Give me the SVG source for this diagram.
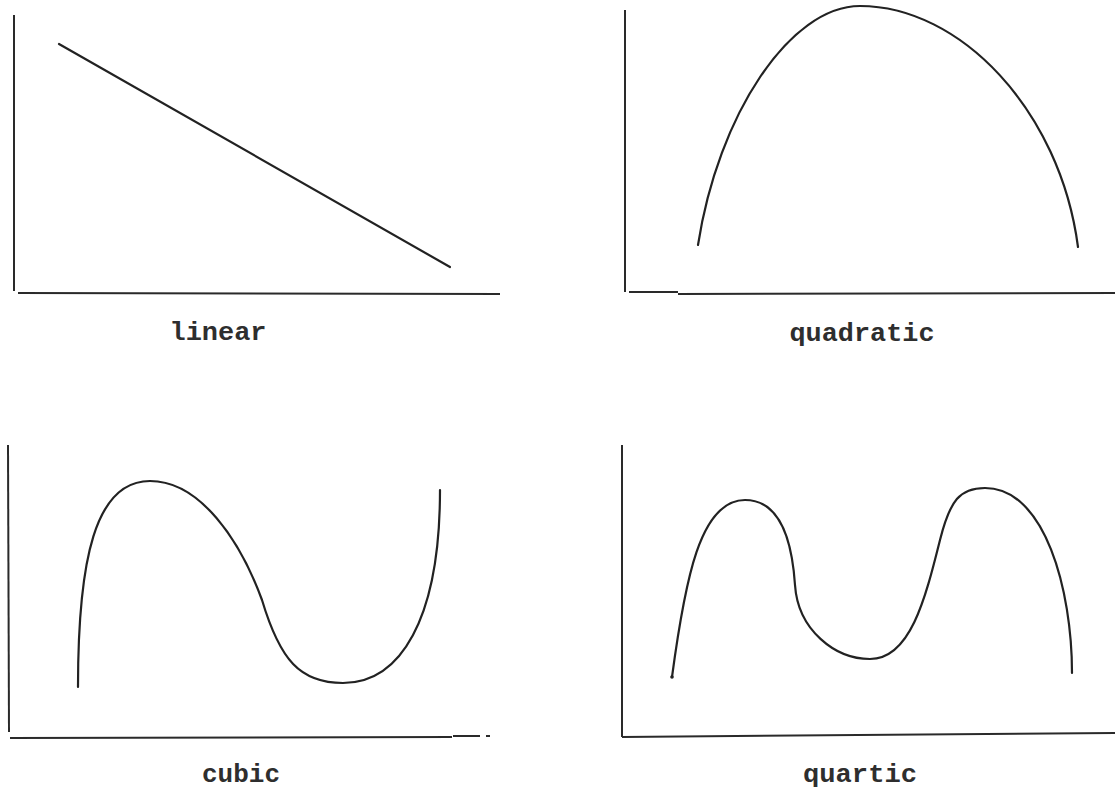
<svg xmlns="http://www.w3.org/2000/svg" width="1115" height="790" viewBox="0 0 1115 790">
<style>
.ax{stroke:#2a2a2a;stroke-width:2;fill:none;stroke-linecap:butt}
.cv{stroke:#222;stroke-width:2.2;fill:none;stroke-linecap:round;stroke-linejoin:round}
.lb{font-family:"Liberation Mono","Courier New",monospace;font-size:26px;font-weight:bold;fill:#2e2e2e;text-anchor:middle}
</style>
<rect width="1115" height="790" fill="#ffffff"/>
<g id="linear">
<path class="ax" d="M14,15 L14,291"/>
<path class="ax" d="M18,293 L500,294"/>
<path class="cv" d="M59,44 L450,267"/>
<text class="lb" x="218" y="340" textLength="97" lengthAdjust="spacingAndGlyphs">linear</text>
</g>
<g id="quadratic">
<path class="ax" d="M625,10 L625,292"/>
<path class="ax" d="M629,292 L678,292 M678,294 L1115,293"/>
<path class="cv" d="M698,245 C718,115 790,6 860,6 C960,6 1060,110 1078,247"/>
<text class="lb" x="862" y="341" textLength="145" lengthAdjust="spacingAndGlyphs">quadratic</text>
</g>
<g id="cubic">
<path class="ax" d="M8,445 L9,732"/>
<path class="ax" d="M10,738 L452,737 M453,736 L480,736 M486,736 L490,736"/>
<path class="cv" d="M78,687 C78,560 95,481 150,481 C200,481 240,540 262,600 C280,660 300,683 343,683 C400,683 440,620 440,490"/>
<text class="lb" x="241" y="782" textLength="78" lengthAdjust="spacingAndGlyphs">cubic</text>
</g>
<g id="quartic">
<path class="ax" d="M622,445 L622,737"/>
<path class="ax" d="M622,737 L1115,733"/>
<path class="cv" d="M672,677 C685,580 700,500 745,500 C780,500 792,540 795,585 C798,630 835,659 870,659 C910,659 925,600 940,540 C950,500 960,488 985,488 C1045,488 1072,590 1072,673"/>
<circle cx="672" cy="677" r="1.8" fill="#222"/>
<text class="lb" x="860" y="782" textLength="114" lengthAdjust="spacingAndGlyphs">quartic</text>
</g>
</svg>
